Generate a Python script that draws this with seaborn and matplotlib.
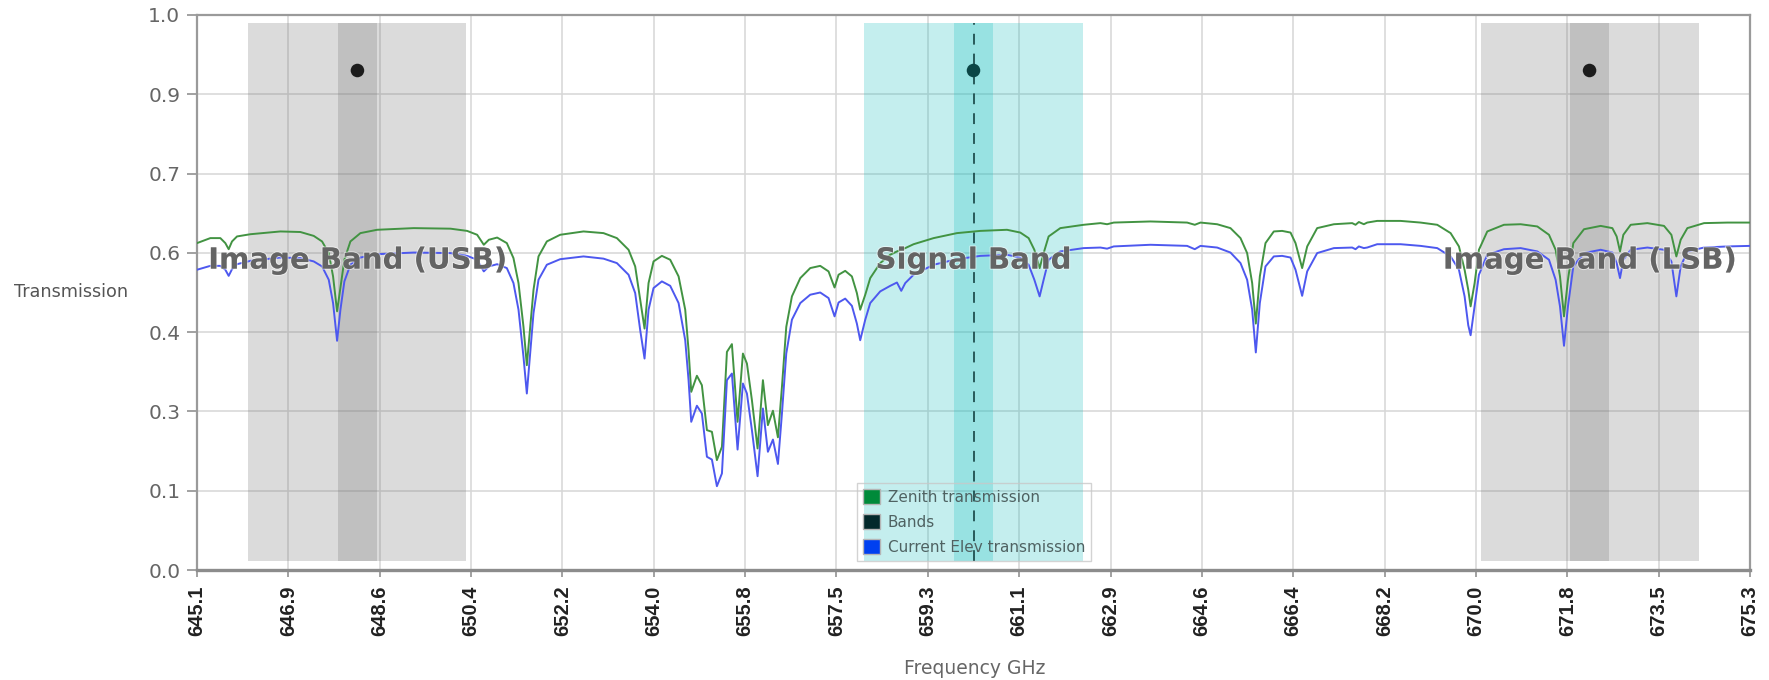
import numpy as np
import pandas as pd
import matplotlib
matplotlib.use("Agg")
import matplotlib.pyplot as plt
import matplotlib.patheffects as pe
from matplotlib.patches import Patch
import seaborn as sns

# ---------------------------------------------------------------- data
# Frequency grid (GHz) of the transmission spectra
freq = [
    # 645.1 - 650.9
    645.100, 645.359, 645.554, 645.651, 645.716, 645.781, 645.878, 646.138, 646.721, 647.110,
    647.370, 647.532, 647.662, 647.746, 647.824, 647.889, 647.966, 648.083, 648.278, 648.602,
    649.315, 650.029, 650.353, 650.548, 650.677, 650.775, 650.937,
    # 651.1 - 656.8
    651.125, 651.254, 651.352, 651.449, 651.514, 651.579, 651.644, 651.741, 651.903, 652.162,
    652.616, 653.005, 653.265, 653.492, 653.621, 653.719, 653.803, 653.881, 653.978, 654.140,
    654.302, 654.465, 654.594, 654.659, 654.711, 654.821, 654.918, 655.016, 655.113, 655.210,
    655.308, 655.405, 655.502, 655.612, 655.716, 655.794, 655.891, 656.001, 656.105, 656.202,
    656.300, 656.397, 656.475, 656.559, 656.669, 656.832,
    # 657.0 - 662.3
    657.025, 657.219, 657.381, 657.498, 657.576, 657.705, 657.835, 657.932, 657.997, 658.095,
    658.192, 658.386, 658.581, 658.711, 658.795, 658.873, 659.035, 659.424, 659.878, 660.332,
    660.851, 661.110, 661.272, 661.383, 661.486, 661.564, 661.661, 661.888, 662.342,
    # 662.7 - 668.5
    662.668, 662.798, 662.927, 663.641, 664.354, 664.503, 664.614, 664.938, 665.197, 665.392,
    665.521, 665.619, 665.690, 665.768, 665.878, 666.040, 666.202, 666.365, 666.462, 666.591,
    666.689, 666.883, 667.208, 667.564, 667.629, 667.694, 667.791, 667.856, 668.050, 668.505,
    # 668.9 - 675.3
    668.894, 669.218, 669.478, 669.640, 669.750, 669.821, 669.867, 669.945, 670.029, 670.191,
    670.515, 670.840, 671.164, 671.391, 671.520, 671.605, 671.683, 671.760, 671.864, 672.072,
    672.396, 672.623, 672.707, 672.772, 672.837, 672.980, 673.304, 673.628, 673.771, 673.868,
    673.952, 674.082, 674.406, 674.860, 675.300,
]

# Transmission towards zenith
zenith = [
    0.589, 0.598, 0.598, 0.589, 0.578, 0.592, 0.601, 0.605, 0.610, 0.609,
    0.602, 0.592, 0.571, 0.529, 0.466, 0.508, 0.559, 0.592, 0.607, 0.613,
    0.616, 0.615, 0.611, 0.604, 0.586, 0.595, 0.599,
    0.589, 0.562, 0.517, 0.438, 0.369, 0.438, 0.505, 0.565, 0.592, 0.604,
    0.610, 0.607, 0.598, 0.577, 0.547, 0.487, 0.435, 0.517, 0.556, 0.566,
    0.559, 0.529, 0.469, 0.396, 0.321, 0.350, 0.333, 0.252, 0.249, 0.198,
    0.222, 0.393, 0.407, 0.267, 0.390, 0.372, 0.306, 0.219, 0.342, 0.261,
    0.287, 0.239, 0.330, 0.438, 0.493, 0.526,
    0.544, 0.548, 0.538, 0.509, 0.532, 0.539, 0.529, 0.499, 0.469, 0.496,
    0.526, 0.553, 0.568, 0.574, 0.577, 0.580, 0.587, 0.598, 0.607, 0.611,
    0.613, 0.608, 0.598, 0.577, 0.544, 0.571, 0.601, 0.616, 0.622,
    0.625, 0.623, 0.626, 0.628, 0.626, 0.622, 0.626, 0.623, 0.616, 0.598,
    0.571, 0.517, 0.444, 0.529, 0.589, 0.610, 0.611, 0.608, 0.589, 0.544,
    0.583, 0.616, 0.623, 0.625, 0.622, 0.627, 0.623, 0.626, 0.629, 0.629,
    0.626, 0.622, 0.607, 0.583, 0.541, 0.505, 0.475, 0.517, 0.577, 0.610,
    0.622, 0.623, 0.619, 0.604, 0.577, 0.529, 0.457, 0.523, 0.589, 0.614,
    0.620, 0.616, 0.601, 0.574, 0.604, 0.622, 0.625, 0.620, 0.604, 0.565,
    0.595, 0.616, 0.625, 0.626, 0.626,
]

# Transmission at the current elevation
elevation = [
    0.541, 0.548, 0.548, 0.541, 0.530, 0.542, 0.551, 0.557, 0.563, 0.562,
    0.556, 0.547, 0.523, 0.481, 0.413, 0.469, 0.520, 0.550, 0.563, 0.569,
    0.572, 0.571, 0.566, 0.559, 0.538, 0.547, 0.551,
    0.544, 0.517, 0.469, 0.384, 0.318, 0.390, 0.463, 0.523, 0.550, 0.560,
    0.565, 0.561, 0.553, 0.532, 0.499, 0.432, 0.381, 0.469, 0.508, 0.520,
    0.512, 0.481, 0.414, 0.342, 0.267, 0.296, 0.282, 0.204, 0.199, 0.151,
    0.174, 0.342, 0.354, 0.217, 0.336, 0.318, 0.252, 0.169, 0.291, 0.213,
    0.235, 0.191, 0.282, 0.390, 0.451, 0.481,
    0.496, 0.500, 0.490, 0.457, 0.482, 0.489, 0.476, 0.444, 0.414, 0.451,
    0.481, 0.502, 0.512, 0.518, 0.503, 0.517, 0.532, 0.550, 0.560, 0.566,
    0.568, 0.563, 0.550, 0.523, 0.493, 0.523, 0.559, 0.574, 0.580,
    0.581, 0.579, 0.583, 0.586, 0.584, 0.578, 0.584, 0.581, 0.572, 0.553,
    0.523, 0.469, 0.392, 0.481, 0.547, 0.565, 0.566, 0.563, 0.541, 0.494,
    0.538, 0.571, 0.580, 0.581, 0.578, 0.583, 0.580, 0.581, 0.587, 0.587,
    0.584, 0.580, 0.565, 0.541, 0.493, 0.441, 0.423, 0.475, 0.532, 0.568,
    0.578, 0.580, 0.574, 0.559, 0.523, 0.475, 0.404, 0.475, 0.547, 0.571,
    0.577, 0.572, 0.553, 0.526, 0.559, 0.577, 0.581, 0.577, 0.556, 0.493,
    0.547, 0.574, 0.581, 0.583, 0.584,
]

# Receiver bands
band_names = ["Image Band (USB)", "Signal Band", "Image Band (LSB)"]
band_centers = [648.22, 660.20, 672.18]
band_widths = [4.24, 4.24, 4.24]
core_widths = [0.75, 0.75, 0.75]
band_low, band_high = 0.016, 0.985
marker_level = [0.9, 0.9, 0.9]

freq_tick_labels = ["645.1", "646.9", "648.6", "650.4", "652.2", "654.0", "655.8",
                    "657.5", "659.3", "661.1", "662.9", "664.6", "666.4", "668.2",
                    "670.0", "671.8", "673.5", "675.3"]
trans_tick_labels = ["0.0", "0.1", "0.3", "0.4", "0.6", "0.7", "0.9", "1.0"]

# ---------------------------------------------------------------- style
sns.set_theme(style="white")
plt.rcParams["font.family"] = ["DejaVu Sans"]

W, H = 1769, 680
fig = plt.figure(figsize=(W / 100, H / 100), dpi=100)
ax = fig.add_axes([197 / W, 110 / H, 1553 / W, 555 / H])

xmin, xmax = 645.1, 675.3
ax.set_xlim(xmin, xmax)
ax.set_ylim(0, 1)

# grid
ax.set_xticks(np.linspace(xmin, xmax, len(freq_tick_labels)))
ax.set_xticklabels(freq_tick_labels)
ax.set_yticks(np.linspace(0, 1, len(trans_tick_labels)))
ax.set_yticklabels(trans_tick_labels)
ax.grid(True, color="#d6d6d6", linewidth=1.1)
ax.set_axisbelow(True)

# bands: grey image bands, cyan signal band
band_colors = ["#737373", "#17bfbf", "#737373"]
for c, w, cw, col in zip(band_centers, band_widths, core_widths, band_colors):
    ax.bar(c, band_high - band_low, width=w, bottom=band_low, color=col,
           alpha=0.25, linewidth=0, zorder=1)
    ax.bar(c, band_high - band_low, width=cw, bottom=band_low, color=col,
           alpha=0.25, linewidth=0, zorder=1)

# signal band centre
ax.vlines(band_centers[1], band_low, band_high, colors="#1f4f4f",
          linestyles=(0, (6, 5)), linewidth=1.3, zorder=3)

# transmission curves
df = pd.concat([
    pd.DataFrame({"freq": freq, "trans": zenith, "series": "Zenith transmission"}),
    pd.DataFrame({"freq": freq, "trans": elevation, "series": "Current Elev transmission"}),
])
sns.lineplot(data=df, x="freq", y="trans", hue="series", estimator=None,
             sort=False, palette={"Zenith transmission": "#429342",
                                  "Current Elev transmission": "#4d58ef"},
             linewidth=1.4, legend=False, ax=ax, zorder=4)

# band centre markers
sns.scatterplot(x=band_centers, y=marker_level, hue=band_names,
                palette=["#1c1c1c", "#0b4646", "#1c1c1c"], s=95,
                linewidth=0, legend=False, ax=ax, zorder=5)

# band names
for name, c in zip(band_names, band_centers):
    ax.text(c, 0.543, name, ha="center", va="baseline", fontsize=21,
            fontweight="bold", color="#646464", zorder=6,
            path_effects=[pe.withStroke(linewidth=1.5, foreground=(1, 1, 1, 0.5))])

# axes styling
for side, sp in ax.spines.items():
    sp.set_color("#9a9a9a")
    sp.set_linewidth(1.6)
ax.spines["bottom"].set_linewidth(2.4)
ax.spines["bottom"].set_color("#8c8c8c")

ax.tick_params(axis="y", which="major", left=True, length=7, width=1.3,
               color="#9a9a9a", labelsize=14.5, labelcolor="#666666", pad=5)
ax.tick_params(axis="x", which="major", bottom=True, length=5, width=1.3,
               color="#9a9a9a", labelsize=14.5, labelcolor="#222222", pad=6,
               labelrotation=90)
for lab in ax.get_xticklabels():
    lab.set_fontweight("bold")
    lab.set_fontfamily("Liberation Sans")

ax.set_xlabel("")
ax.set_ylabel("")
fig.text(71 / W, 1 - 292 / H, "Transmission", ha="center", va="center",
         fontsize=12.7, color="#555555")
fig.text(975 / W, 1 - 668 / H, "Frequency GHz", ha="center", va="center",
         fontsize=13.5, color="#666666")

# legend
handles = [
    Patch(facecolor="#008a3a", edgecolor="#b5b5b5", linewidth=1.0, label="Zenith transmission"),
    Patch(facecolor="#03292b", edgecolor="#b5b5b5", linewidth=1.0, label="Bands"),
    Patch(facecolor="#0040f0", edgecolor="#b5b5b5", linewidth=1.0, label="Current Elev transmission"),
]
leg = ax.legend(handles=handles, loc="lower left", bbox_to_anchor=(0.425, 0.016),
                fontsize=11, labelcolor="#4f6262", handlelength=1.1,
                handleheight=1.1, handletextpad=0.5, labelspacing=0.62,
                borderpad=0.4, borderaxespad=0, fancybox=False, frameon=True)
leg.get_frame().set_facecolor("none")
leg.get_frame().set_edgecolor("#c8c8c8")
leg.get_frame().set_linewidth(1.0)
leg.set_zorder(7)

fig.savefig("out.png", dpi=100)
